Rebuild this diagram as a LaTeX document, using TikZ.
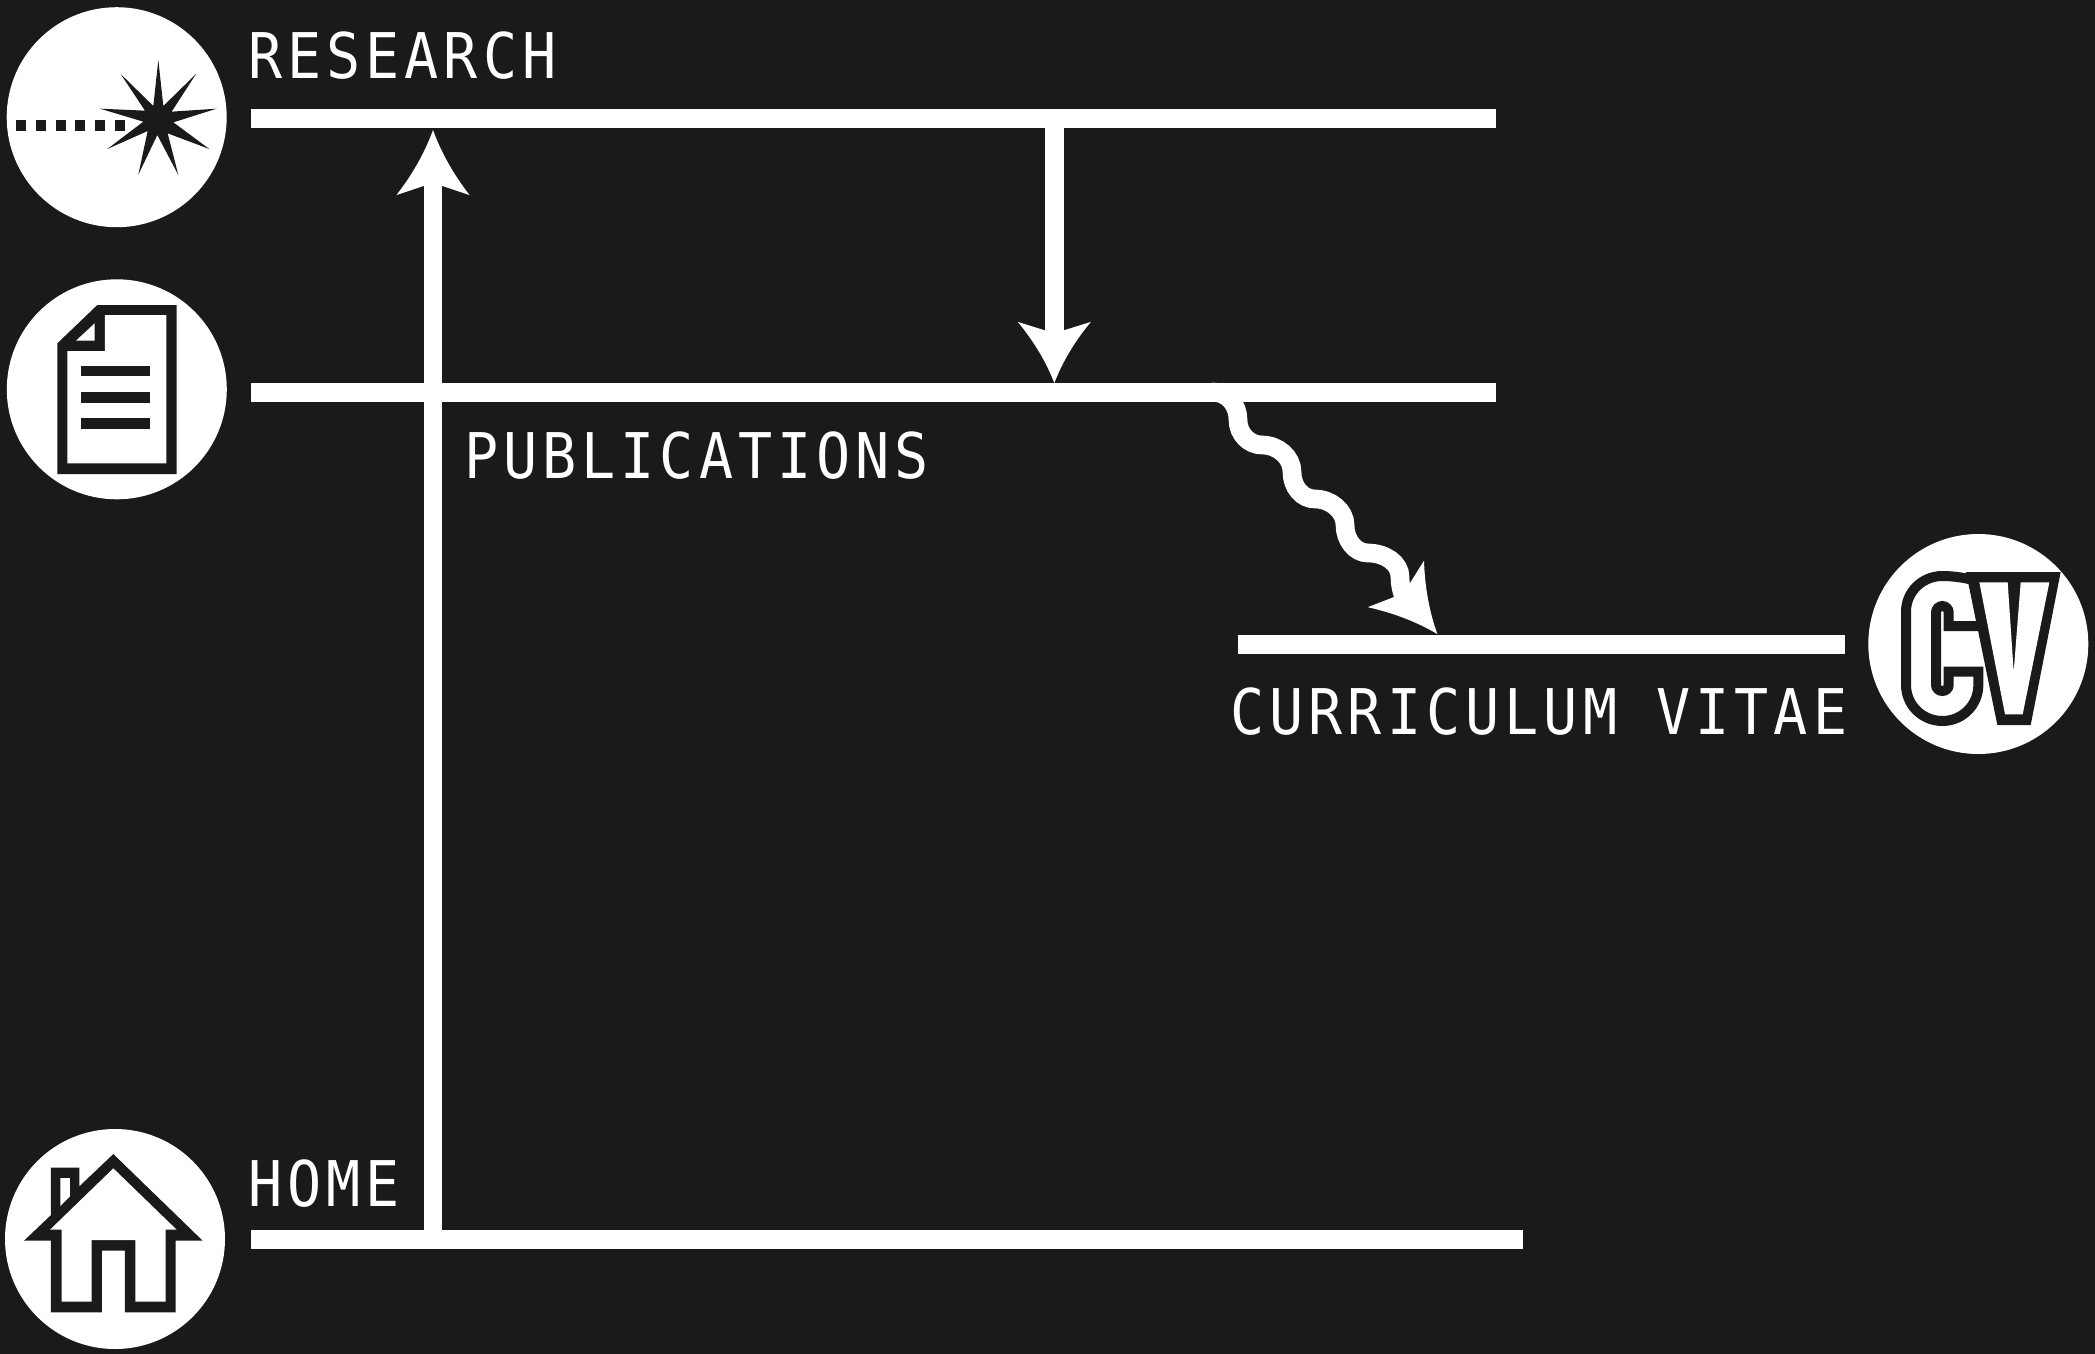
\documentclass[tikz,border=0pt]{standalone}
\usepackage{fontspec}
\newfontfamily\labelfont{DejaVu Sans Mono}[FakeStretch=0.9,LetterSpace=8]
\definecolor{ink}{HTML}{1A1A1A}
\tikzset{
  rail/.style={draw=white,line width=18.7pt,line cap=butt},
  shaft/.style={draw=white,line width=18.7pt,line cap=butt},
  badge/.style={circle,fill=white,minimum size=220pt,inner sep=0pt,outer sep=0pt},
  railtext/.style={text=white,anchor=base west,inner sep=0pt,outer sep=0pt,font=\labelfont\fontsize{63}{70}\selectfont},
  icon/.style={x=0.33333pt,y=-0.33333pt},
  arrowhead/.pic={
    \fill[white] (0,0) .. controls (-8.5,23.5) and (-21,45) .. (-36.5,65)
      -- (-9.4,56) -- (9.4,56) -- (36.5,65)
      .. controls (21,45) and (8.5,23.5) .. (0,0) -- cycle;
  }
}
\begin{document}
\begin{tikzpicture}[x=1pt,y=-1pt]
\useasboundingbox (0,0) rectangle (2095,1353);
\fill[ink] (-3,-3) rectangle (2098,1356);

% rails
\coordinate (r1a) at (251,118.2);   \coordinate (r1b) at (1496,118.2);
\coordinate (r2a) at (251,392.2);   \coordinate (r2b) at (1496,392.2);
\coordinate (r3a) at (1238,644.2);  \coordinate (r3b) at (1845,644.2);
\coordinate (r4a) at (251,1239.5);  \coordinate (r4b) at (1523,1239.5);
\draw[rail] (r1a) -- (r1b);
\draw[rail] (r2a) -- (r2b);
\draw[rail] (r3a) -- (r3b);
\draw[rail] (r4a) -- (r4b);

% labels
\node[railtext] (tresearch) at (248,78) {RESEARCH};
\node[railtext] (tpub) at (464,478) {PUBLICATIONS};
\node[railtext] (tcv) at (1230.5,734.5) {CURRICULUM VITAE};
\node[railtext] (thome) at (248,1206) {HOME};

% up arrow
\coordinate (upfoot) at (433,1239.5);
\coordinate (uptip) at (433,130);
\coordinate (upbase) at (433,180);
\draw[shaft] (upfoot) -- (upbase);
\pic at (uptip) {arrowhead};

% down arrow
\coordinate (downtop) at (1054.3,118);
\coordinate (downtip) at (1054.3,383);
\coordinate (downbase) at (1054.3,340);
\draw[shaft] (downtop) -- (downbase);
\pic[rotate=180,yscale=0.94] at (downtip) {arrowhead};

% wavy arrow
\coordinate (wavestart) at (1212,392);
\coordinate (waveend) at (1405,600);
\coordinate (wavetip) at (1437.3,634);
\draw[shaft] (wavestart) .. controls (1228,392) and (1238,405) .. (1238,420)
  .. controls (1238,434) and (1249,445) .. (1262,445)
  .. controls (1278,445) and (1292,457) .. (1292,472)
  .. controls (1292,487) and (1302,499) .. (1315,499)
  .. controls (1331,499) and (1345,511) .. (1345,525)
  .. controls (1345,540) and (1355,553) .. (1368,553)
  .. controls (1385,553) and (1400,563) .. (1400,577)
  .. controls (1400,584) and (1401,590) .. (waveend);
\pic[rotate=-140.4] at (wavetip) {arrowhead};

% badges
\node[badge] (bresearch) at (116.7,117.2) {};
\node[badge] (bpub) at (116.8,389.3) {};
\node[badge] (bhome) at (115,1239) {};
\node[badge] (bcv) at (1978.3,644) {};

% research icon
\begin{scope}[shift={(0,0)},icon]
\fill[ink] (475,180) -- (490,318) -- (588,222) -- (515,335) -- (650,326) -- (520,367)
  -- (628,447) -- (503,400) -- (535,525) -- (472,405) -- (415,524) -- (443,393)
  -- (322,447) -- (430,365) -- (300,326) -- (435,332) -- (362,222) -- (460,318) -- cycle;
\foreach \d in {48,107,167,226,285,344}
  \fill[ink] (\d,359) rectangle ++(30,33);
\end{scope}

% publications icon
\begin{scope}[shift={(0,270)},icon]
\fill[ink] (172,220) -- (292,105) -- (530,105) -- (530,612) -- (172,612) -- cycle;
\fill[white] (202,243) -- (315,243) -- (315,135) -- (499,135) -- (499,580) -- (202,580) -- cycle;
\fill[white] (228,212) -- (284,160) -- (284,212) -- cycle;
\fill[ink] (244,287) rectangle (450,319);
\fill[ink] (244,366) rectangle (450,398);
\fill[ink] (244,444) rectangle (450,476);
\end{scope}

% home icon
\begin{scope}[shift={(0,1120.7)},icon]
\fill[ink] (340,100) -- (608,360) -- (527,360) -- (527,575) -- (375,575) -- (375,390)
  -- (306,390) -- (306,575) -- (153,575) -- (153,360) -- (72,360) -- (153,283)
  -- (153,141) -- (238,141) -- (238,197) -- cycle;
\fill[white] (340,143) -- (530,327) -- (497,327) -- (497,543) -- (406,543) -- (406,358)
  -- (275,358) -- (275,543) -- (185,543) -- (185,327) -- (150,327) -- cycle;
\fill[white] (181,172) -- (210,172) -- (210,227) -- (181,256) -- cycle;
\end{scope}

% cv icon
\begin{scope}[shift={(1855,525)},icon]
\draw[ink,line width=10pt,fill=white,miter limit=10]
  (262,153) .. controls (202,153) and (153,200) .. (153,260)
  -- (153,480) .. controls (153,540) and (202,588) .. (262,588)
  .. controls (322,588) and (370,540) .. (370,480)
  -- (370,440) -- (281,440) -- (281,480)
  .. controls (281,490) and (272,498) .. (262,498)
  .. controls (252,498) and (243,490) .. (243,480)
  -- (243,262) .. controls (243,252) and (252,243) .. (262,243)
  .. controls (272,243) and (281,252) .. (281,262)
  -- (281,303) -- (382,303) -- (356,165)
  .. controls (325,158) and (295,153) .. (262,153) -- cycle;
\fill[ink] (333,141) -- (617,141) -- (527,600) -- (427,600) -- cycle;
\fill[white] (373,172) -- (458,172) -- (476,440) -- (497,172) -- (583,172) -- (503,568) -- (450,568) -- cycle;
\end{scope}
\end{tikzpicture}
\end{document}
